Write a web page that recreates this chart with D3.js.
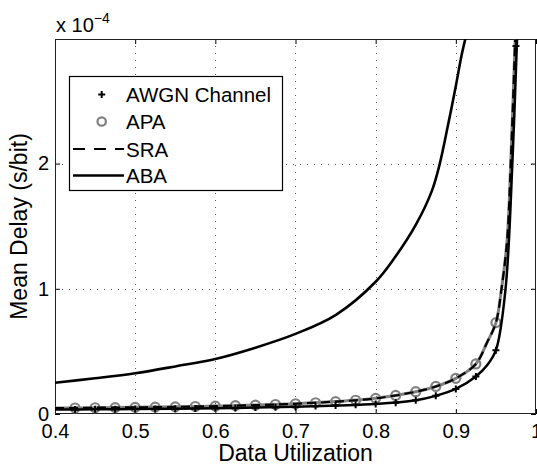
<!DOCTYPE html>
<html>
<head>
<meta charset="utf-8">
<script src="https://cdn.jsdelivr.net/npm/d3@7"></script>
<style>
  html, body { margin: 0; padding: 0; background: #fff; }
  svg { display: block; font-family: "Liberation Sans", Arial, sans-serif; }
</style>
</head>
<body>
<svg id="chart" width="537" height="465"></svg>
<script>
// values (y in units of 1e-4 s/bit)
var xTicks = [0.4, 0.5, 0.6, 0.7, 0.8, 0.9, 1];
var yTicks = [0, 1, 2];

var markerX = [0.425, 0.45, 0.475, 0.5, 0.525, 0.55, 0.575, 0.6, 0.625, 0.65, 0.675, 0.7,
               0.725, 0.75, 0.775, 0.8, 0.825, 0.85, 0.875, 0.9, 0.925, 0.95, 0.975];
var awgnMarks = [0.036, 0.037, 0.038, 0.039, 0.040, 0.042, 0.044, 0.046, 0.048, 0.051, 0.054, 0.058,
                 0.063, 0.068, 0.074, 0.080, 0.090, 0.110, 0.145, 0.200, 0.300, 0.510, 2.94];
var apaMarks = [0.048, 0.050, 0.051, 0.053, 0.055, 0.057, 0.060, 0.063, 0.067, 0.071, 0.076, 0.082,
                0.090, 0.099, 0.110, 0.125, 0.148, 0.178, 0.220, 0.285, 0.400, 0.730];

var awgnLineX = [0.4, 0.45, 0.5, 0.55, 0.6, 0.65, 0.7, 0.75, 0.8, 0.85, 0.875, 0.9, 0.925, 0.9385, 0.95, 0.962, 0.9705, 0.9763];
var awgnLineY = [0.035, 0.037, 0.039, 0.042, 0.046, 0.051, 0.058, 0.068, 0.080, 0.110, 0.145, 0.200, 0.300, 0.385, 0.510, 1.0, 2.0, 2.99];

var sraLineX = [0.4, 0.45, 0.5, 0.55, 0.6, 0.65, 0.7, 0.75, 0.8, 0.85, 0.875, 0.9, 0.925, 0.9385, 0.95, 0.957, 0.964, 0.9685, 0.974];
var sraLineY = [0.047, 0.050, 0.053, 0.057, 0.063, 0.071, 0.082, 0.099, 0.125, 0.178, 0.220, 0.285, 0.400, 0.565, 0.730, 1.0, 1.39, 2.0, 2.99];

var abaX = [0.4, 0.45, 0.5, 0.55, 0.6, 0.65, 0.7, 0.75, 0.8, 0.825, 0.85, 0.87, 0.88, 0.89, 0.9, 0.907, 0.912];
var abaY = [0.25, 0.285, 0.325, 0.38, 0.44, 0.53, 0.64, 0.79, 1.056, 1.26, 1.51, 1.78, 2.0, 2.30, 2.62, 2.86, 3.0];

var legendNames = ["AWGN Channel", "APA", "SRA", "ABA"];

var padL = 55, padT = 39, padR = 536, padB = 414;
var grey = "#808080";

var svg = d3.select("#chart");

var x = d3.scaleLinear().domain([0.4, 1]).range([padL, padR]);
var y = d3.scaleLinear().domain([0, 2.995]).range([padB, padT]);

function zip(xs, ys) {
  return ys.map(function (v, i) { return [xs[i], v]; });
}

svg.append("defs").append("clipPath").attr("id", "plot")
    .append("rect")
    .attr("x", padL).attr("y", padT)
    .attr("width", padR - padL).attr("height", padB - padT);

// grid
var grid = svg.append("g")
    .attr("stroke", "#555")
    .attr("stroke-width", 1)
    .attr("stroke-dasharray", "1,6");
grid.selectAll("line.gx").data(xTicks.slice(1, -1)).enter()
    .append("line")
    .attr("x1", function (d) { return Math.round(x(d)) + 0.5; })
    .attr("x2", function (d) { return Math.round(x(d)) + 0.5; })
    .attr("y1", padT).attr("y2", padB);
grid.selectAll("line.gy").data(yTicks.slice(1)).enter()
    .append("line")
    .attr("y1", function (d) { return Math.round(y(d)) + 0.5; })
    .attr("y2", function (d) { return Math.round(y(d)) + 0.5; })
    .attr("x1", padL).attr("x2", padR);

// axes, ticks inside on all four sides
var tickFont = "20px";
var xb = svg.append("g").attr("transform", "translate(0," + padB + ")")
    .call(d3.axisBottom(x).tickValues(xTicks).tickSize(-5).tickPadding(10)
      .tickFormat(function (d) { return d === 1 ? "1" : d3.format(".1f")(d); }));
var xt = svg.append("g").attr("transform", "translate(0," + padT + ")")
    .call(d3.axisTop(x).tickValues(xTicks).tickSize(-5).tickFormat(""));
var yl = svg.append("g").attr("transform", "translate(" + padL + ",0)")
    .call(d3.axisLeft(y).tickValues(yTicks).tickSize(-5).tickPadding(6).tickFormat(d3.format("d")));
var yr = svg.append("g").attr("transform", "translate(" + padR + ",0)")
    .call(d3.axisRight(y).tickValues(yTicks).tickSize(-5).tickFormat(""));
[xb, xt, yl, yr].forEach(function (g) {
  g.select(".domain").remove();
  g.selectAll("line").attr("stroke", "#000");
  g.selectAll("text").attr("fill", "#000")
      .style("font-size", tickFont)
      .style("font-family", "'Liberation Sans', Arial, sans-serif");
});
xb.selectAll("text").attr("dy", "0.71em").attr("y", 10);

svg.append("rect")
    .attr("x", padL + 0.5).attr("y", padT + 0.5)
    .attr("width", padR - padL - 1).attr("height", padB - padT - 1)
    .attr("fill", "none").attr("stroke", "#222").attr("stroke-width", 1);

// curves
var plot = svg.append("g").attr("clip-path", "url(#plot)");
var line = d3.line()
    .x(function (d) { return x(d[0]); })
    .y(function (d) { return y(d[1]); })
    .curve(d3.curveCatmullRom.alpha(0.5));

plot.append("path").datum(zip(sraLineX, sraLineY))
    .attr("d", line).attr("fill", "none")
    .attr("stroke", grey).attr("stroke-width", 3);

plot.selectAll("circle.apa").data(zip(markerX, apaMarks)).enter()
    .append("circle").attr("class", "apa")
    .attr("cx", function (d) { return x(d[0]); })
    .attr("cy", function (d) { return y(d[1]); })
    .attr("r", 4.5)
    .attr("fill", "none").attr("stroke", grey).attr("stroke-width", 2.2);

plot.append("path").datum(zip(sraLineX, sraLineY))
    .attr("d", line).attr("fill", "none")
    .attr("stroke", "#000").attr("stroke-width", 2.2)
    .attr("stroke-dasharray", "9,5");

plot.append("path").datum(zip(awgnLineX, awgnLineY))
    .attr("d", line).attr("fill", "none")
    .attr("stroke", "#000").attr("stroke-width", 2.5);

svg.selectAll("path.awgn").data(zip(markerX, awgnMarks)).enter()
    .append("path").attr("class", "awgn")
    .attr("transform", function (d) { return "translate(" + x(d[0]) + "," + y(d[1]) + ")"; })
    .attr("d", "M-3.5,0H3.5M0,-3.5V3.5")
    .attr("stroke", "#000").attr("stroke-width", 2);

plot.append("path").datum(zip(abaX, abaY))
    .attr("d", line).attr("fill", "none")
    .attr("stroke", "#000").attr("stroke-width", 2.6);

// exponent label
var expo = svg.append("text").attr("x", 56).attr("y", 32)
    .style("font-size", "20px").attr("fill", "#000");
expo.append("tspan").text("x 10");
expo.append("tspan").attr("dy", -9).style("font-size", "14px").text("\u22124");

// axis labels
svg.append("text")
    .attr("x", (padL + padR) / 2).attr("y", 461)
    .attr("text-anchor", "middle")
    .style("font-size", "23px")
    .text("Data Utilization");
svg.append("text")
    .attr("transform", "translate(27," + (padT + padB) / 2 + ") rotate(-90)")
    .attr("text-anchor", "middle")
    .style("font-size", "23px")
    .text("Mean Delay (s/bit)");

// legend
var lg = svg.append("g");
lg.append("rect")
    .attr("x", 69.5).attr("y", 76.5).attr("width", 213).attr("height", 114)
    .attr("fill", "#fff").attr("stroke", "#000").attr("stroke-width", 1.2);
var rowY = [94.5, 121.5, 149, 175.5];
lg.selectAll("text").data(legendNames).enter()
    .append("text")
    .attr("x", 126).attr("y", function (d, i) { return rowY[i] + 7.5; })
    .style("font-size", "20.5px")
    .text(function (d) { return d; });
lg.append("path")
    .attr("transform", "translate(101.7," + rowY[0] + ")")
    .attr("d", "M-3.5,0H3.5M0,-3.5V3.5")
    .attr("stroke", "#000").attr("stroke-width", 2);
lg.append("circle")
    .attr("cx", 101.7).attr("cy", rowY[1]).attr("r", 4.2)
    .attr("fill", "none").attr("stroke", grey).attr("stroke-width", 2.2);
lg.append("line")
    .attr("x1", 73).attr("x2", 124).attr("y1", rowY[2]).attr("y2", rowY[2])
    .attr("stroke", "#000").attr("stroke-width", 2.2).attr("stroke-dasharray", "12,9");
lg.append("line")
    .attr("x1", 73).attr("x2", 124).attr("y1", rowY[3]).attr("y2", rowY[3])
    .attr("stroke", "#000").attr("stroke-width", 2.4);
</script>
</body>
</html>
